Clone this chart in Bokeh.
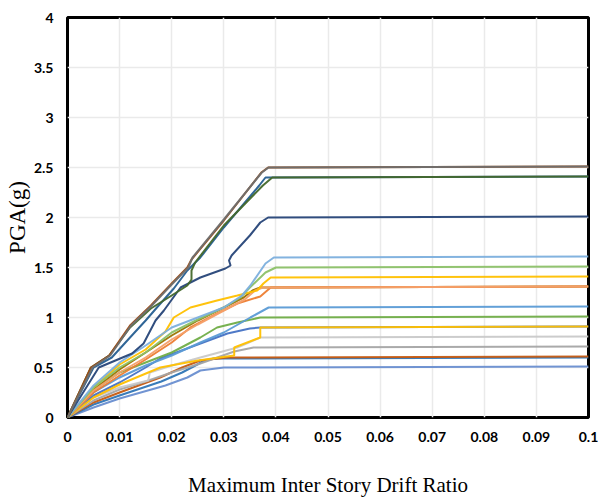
from bokeh.plotting import figure
from bokeh.models import FixedTicker, NumeralTickFormatter
from bokeh.embed import file_html
from bokeh.resources import INLINE

# ---- data (drift ratio, PGA in g) for each record ----
drift_r01 = [0, 0.0045, 0.008, 0.012, 0.016, 0.020, 0.023, 0.0238, 0.030, 0.0372, 0.0385, 0.1]
pga_r01 = [0, 0.50, 0.62, 0.92, 1.12, 1.34, 1.50, 1.58, 1.97, 2.45, 2.50, 2.51]

drift_r02 = [0, 0.0048, 0.0082, 0.0122, 0.016, 0.020, 0.0232, 0.024, 0.030, 0.0373, 0.0386, 0.1]
pga_r02 = [0, 0.50, 0.62, 0.92, 1.11, 1.33, 1.50, 1.60, 1.98, 2.45, 2.50, 2.51]

drift_r03 = [0, 0.0045, 0.008, 0.012, 0.016, 0.020, 0.023, 0.0238, 0.0238, 0.0245, 0.030, 0.0375, 0.0393, 0.1]
pga_r03 = [0, 0.50, 0.62, 0.90, 1.09, 1.22, 1.32, 1.38, 1.47, 1.55, 1.92, 2.32, 2.40, 2.41]

drift_r04 = [0, 0.005, 0.0085, 0.012, 0.015, 0.0175, 0.0204, 0.023, 0.0255, 0.030, 0.0368, 0.038, 0.1]
pga_r04 = [0, 0.50, 0.60, 0.80, 0.97, 1.12, 1.29, 1.47, 1.60, 1.90, 2.32, 2.40, 2.41]

drift_r05 = [0, 0.006, 0.0092, 0.0124, 0.0146, 0.0169, 0.0185, 0.0217, 0.0255, 0.0303, 0.0313, 0.031, 0.0315, 0.035, 0.037, 0.0385, 0.1]
pga_r05 = [0, 0.50, 0.57, 0.64, 0.74, 0.97, 1.07, 1.30, 1.40, 1.49, 1.52, 1.57, 1.62, 1.82, 1.95, 2.00, 2.01]

drift_r06 = [0, 0.005, 0.010, 0.015, 0.020, 0.025, 0.030, 0.0335, 0.0351, 0.038, 0.0396, 0.1]
pga_r06 = [0, 0.32, 0.55, 0.72, 0.90, 1.00, 1.10, 1.22, 1.32, 1.54, 1.60, 1.61]

drift_r07 = [0, 0.005, 0.010, 0.015, 0.020, 0.025, 0.030, 0.0332, 0.035, 0.038, 0.040, 0.1]
pga_r07 = [0, 0.30, 0.50, 0.65, 0.85, 0.98, 1.10, 1.20, 1.30, 1.45, 1.50, 1.51]

drift_r08 = [0, 0.005, 0.010, 0.015, 0.0188, 0.0204, 0.0236, 0.0287, 0.0326, 0.0364, 0.0376, 0.039, 0.1]
pga_r08 = [0, 0.30, 0.53, 0.68, 0.86, 1.00, 1.10, 1.17, 1.22, 1.27, 1.34, 1.40, 1.41]

drift_r09 = [0, 0.005, 0.010, 0.015, 0.020, 0.025, 0.030, 0.0338, 0.0355, 0.037, 0.1]
pga_r09 = [0, 0.28, 0.48, 0.65, 0.82, 0.97, 1.10, 1.20, 1.27, 1.30, 1.31]

drift_r10 = [0, 0.005, 0.010, 0.015, 0.020, 0.025, 0.030, 0.034, 0.036, 0.0375, 0.1]
pga_r10 = [0, 0.27, 0.45, 0.60, 0.78, 0.93, 1.07, 1.18, 1.27, 1.30, 1.31]

drift_r11 = [0, 0.005, 0.010, 0.015, 0.020, 0.0236, 0.0287, 0.0326, 0.037, 0.039, 0.1]
pga_r11 = [0, 0.25, 0.42, 0.58, 0.75, 0.90, 1.04, 1.14, 1.21, 1.30, 1.31]

drift_r12 = [0, 0.005, 0.010, 0.015, 0.020, 0.0255, 0.030, 0.0351, 0.0386, 0.1]
pga_r12 = [0, 0.25, 0.40, 0.52, 0.62, 0.75, 0.85, 1.00, 1.10, 1.11]

drift_r13 = [0, 0.005, 0.010, 0.015, 0.020, 0.0255, 0.0287, 0.0326, 0.037, 0.1]
pga_r13 = [0, 0.27, 0.45, 0.55, 0.65, 0.80, 0.90, 0.95, 1.00, 1.01]

drift_r14 = [0, 0.005, 0.010, 0.015, 0.0178, 0.025, 0.0307, 0.035, 0.037, 0.1]
pga_r14 = [0, 0.22, 0.35, 0.50, 0.59, 0.73, 0.84, 0.89, 0.90, 0.91]

drift_r15 = [0, 0.005, 0.010, 0.0178, 0.025, 0.032, 0.032, 0.037, 0.037, 0.1]
pga_r15 = [0, 0.20, 0.33, 0.50, 0.57, 0.62, 0.70, 0.80, 0.90, 0.91]

drift_r16 = [0, 0.005, 0.010, 0.0155, 0.0158, 0.020, 0.0255, 0.0326, 0.037, 0.1]
pga_r16 = [0, 0.20, 0.30, 0.37, 0.45, 0.52, 0.60, 0.70, 0.80, 0.81]

drift_r17 = [0, 0.005, 0.010, 0.015, 0.020, 0.0255, 0.032, 0.0357, 0.1]
pga_r17 = [0, 0.17, 0.28, 0.36, 0.45, 0.54, 0.66, 0.70, 0.71]

drift_r18 = [0, 0.005, 0.010, 0.0178, 0.022, 0.0255, 0.0307, 0.1]
pga_r18 = [0, 0.15, 0.25, 0.40, 0.50, 0.57, 0.60, 0.61]

drift_r19 = [0, 0.005, 0.010, 0.018, 0.022, 0.026, 0.028, 0.1]
pga_r19 = [0, 0.13, 0.22, 0.36, 0.45, 0.56, 0.59, 0.60]

drift_r20 = [0, 0.005, 0.010, 0.0188, 0.023, 0.0255, 0.030, 0.1]
pga_r20 = [0, 0.10, 0.19, 0.32, 0.40, 0.47, 0.50, 0.51]

x_ticks = [0, 0.01, 0.02, 0.03, 0.04, 0.05, 0.06, 0.07, 0.08, 0.09, 0.1]
y_ticks = [0, 0.5, 1, 1.5, 2, 2.5, 3, 3.5, 4]

series = [
    (drift_r20, pga_r20, "#698ED0"),
    (drift_r19, pga_r19, "#2E75B6"),
    (drift_r18, pga_r18, "#C55A11"),
    (drift_r17, pga_r17, "#A5A5A5"),
    (drift_r16, pga_r16, "#C9C9C9"),
    (drift_r14, pga_r14, "#4472C4"),
    (drift_r15, pga_r15, "#FFC000"),
    (drift_r13, pga_r13, "#70AD47"),
    (drift_r12, pga_r12, "#5B9BD5"),
    (drift_r09, pga_r09, "#997300"),
    (drift_r11, pga_r11, "#ED7D31"),
    (drift_r10, pga_r10, "#F4A06A"),
    (drift_r08, pga_r08, "#FFC000"),
    (drift_r07, pga_r07, "#8CC168"),
    (drift_r06, pga_r06, "#7CAFDD"),
    (drift_r05, pga_r05, "#264478"),
    (drift_r04, pga_r04, "#255E91"),
    (drift_r03, pga_r03, "#43682B"),
    (drift_r01, pga_r01, "#9E480E"),
    (drift_r02, pga_r02, "#6F6F6F"),
]

p = figure(width=600, height=499, x_range=(0, 0.1), y_range=(0, 4),
           output_backend="svg", toolbar_location=None,
           min_border_left=67, min_border_right=12, min_border_top=17, min_border_bottom=82)

for xs, ys, c in series:
    p.line(xs, ys, line_color=c, line_width=2, line_alpha=0.95)

p.outline_line_color = "black"
p.outline_line_width = 3
p.background_fill_color = "white"
p.border_fill_color = "white"

p.xaxis.ticker = FixedTicker(ticks=x_ticks)
p.yaxis.ticker = FixedTicker(ticks=y_ticks)
p.xaxis.formatter = NumeralTickFormatter(format="0.[00]")
p.yaxis.formatter = NumeralTickFormatter(format="0.[0]")

for ax in (p.xaxis, p.yaxis):
    ax.axis_line_color = None
    ax.major_tick_line_color = None
    ax.minor_tick_line_color = None
    ax.major_label_text_font = "Lato"
    ax.major_label_text_font_style = "bold"
    ax.major_label_text_font_size = "14px"
    ax.major_label_text_color = "black"
    ax.axis_label_text_font = "Liberation Serif"
    ax.axis_label_text_font_style = "normal"
    ax.axis_label_text_color = "black"

p.xaxis.axis_label = "Maximum Inter Story Drift Ratio"
p.xaxis.axis_label_text_font_size = "21px"
p.xaxis.major_label_standoff = 8
p.xaxis.axis_label_standoff = 28

p.yaxis.axis_label = "PGA(g)"
p.yaxis.axis_label_text_font_size = "23px"
p.yaxis.major_label_standoff = 8
p.yaxis.axis_label_standoff = 1

p.xgrid.grid_line_color = "#EAEAEA"
p.ygrid.grid_line_color = "#EAEAEA"
p.xgrid.grid_line_width = 1.5
p.ygrid.grid_line_width = 1.5

open("out.html", "w").write(file_html(p, INLINE))
